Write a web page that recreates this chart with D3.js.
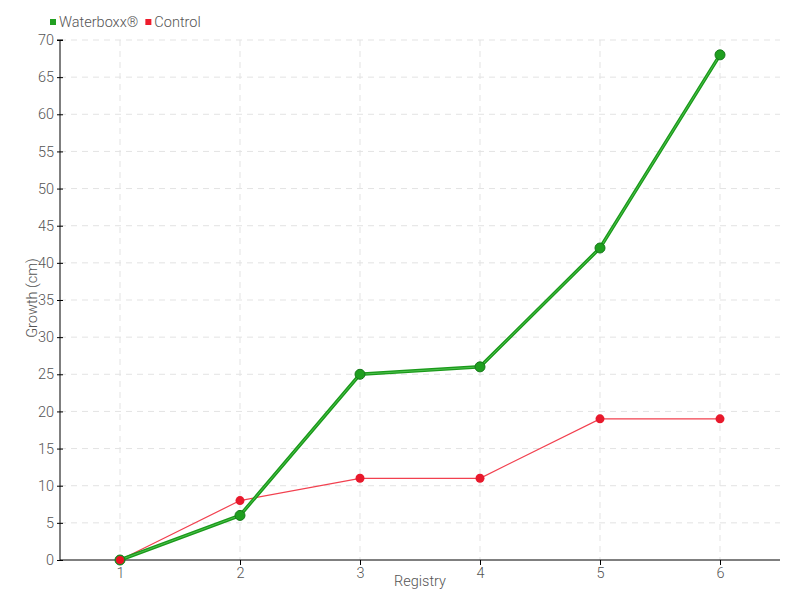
<!DOCTYPE html>
<html><head><meta charset="utf-8">
<script src="https://cdn.jsdelivr.net/npm/d3@7"></script>
<style>body{margin:0;background:#fff}text{font-family:Roboto,"DejaVu Sans Condensed",sans-serif;font-weight:300}</style>
</head><body><svg id="c" width="800" height="600"></svg>
<script>
const categories = ["1","2","3","4","5","6"];
const waterboxx = [0,6,25,26,42,68];
const control = [0,8,11,11,19,19];
const yTicks = [0,5,10,15,20,25,30,35,40,45,50,55,60,65,70];
const seriesNames = ["Waterboxx®","Control"];

const svg = d3.select("#c");
const L=60,R=780,T=40,B=560;
const x = d3.scalePoint().domain(categories).range([L,R]).padding(0.5);
const y = d3.scaleLinear().domain([0,70]).range([B,T]);
const grid = svg.append("g");
grid.selectAll("line.h").data(yTicks.slice(1)).enter().append("line")
 .attr("x1",L).attr("x2",R).attr("y1",d=>y(d)).attr("y2",d=>y(d))
 .attr("stroke","#e3e3e3").attr("stroke-dasharray","6,5");
grid.selectAll("line.v").data(categories).enter().append("line")
 .attr("x1",d=>x(d)).attr("x2",d=>x(d)).attr("y1",T).attr("y2",B)
 .attr("stroke","#e3e3e3").attr("stroke-dasharray","6,5");

const ya = svg.append("g").attr("transform",`translate(${L},0)`)
 .call(d3.axisLeft(y).tickValues(yTicks).tickSize(3).tickPadding(4));
ya.selectAll("line").attr("x2",3).attr("x1",-3).attr("stroke","#000");
ya.select(".domain").attr("d",`M-3,${T}H3M0,${T}V${B}`).attr("stroke","#000");
ya.selectAll("text").attr("font-size",14.5).attr("fill","#555").attr("x",-6);
const xa = svg.append("g").attr("transform",`translate(0,${B})`)
 .call(d3.axisBottom(x).tickSize(5).tickPadding(3));
xa.select(".domain").attr("d",`M${L},0H${R}`).attr("stroke","#000");
xa.selectAll("line").attr("stroke","#000");
xa.selectAll("text").attr("font-size",14.5).attr("fill","#555");

svg.append("text").attr("x",420).attr("y",586).attr("text-anchor","middle")
 .attr("font-size",14.5).attr("fill","#555").text("Registry");
svg.append("text").attr("transform","translate(37,298) rotate(-90)").attr("text-anchor","middle")
 .attr("font-size",14.5).attr("fill","#555").text("Growth (cm)");

const line = d3.line().x((d,i)=>x(categories[i])).y(d=>y(d));
svg.append("path").datum(control).attr("d",line).attr("fill","none")
 .attr("stroke","#f2404f").attr("stroke-width",1.2);
svg.append("path").datum(waterboxx).attr("d",line).attr("fill","none")
 .attr("stroke","#1a9a1a").attr("stroke-width",3.5);
svg.append("path").datum(waterboxx).attr("d",line).attr("fill","none")
 .attr("stroke","#4cc04c").attr("stroke-width",1);
svg.selectAll("circle.c").data(control).enter().append("circle")
 .attr("cx",(d,i)=>x(categories[i])).attr("cy",d=>y(d)).attr("r",4.5)
 .attr("fill","#e8192c");
svg.selectAll("circle.w").data(waterboxx).enter().append("circle")
 .attr("cx",(d,i)=>x(categories[i])).attr("cy",d=>y(d)).attr("r",5)
 .attr("fill","#1f9f1f").attr("stroke","#16781a").attr("stroke-width",1);
svg.append("circle").attr("cx",x(categories[0])).attr("cy",y(control[0])).attr("r",4)
 .attr("fill","#ee1025");

const leg = svg.append("g");
const colors = ["#22a022","#ee1c2c"];
let lx = 50;
seriesNames.forEach((n,i)=>{
  leg.append("rect").attr("x",lx).attr("y",19).attr("width",6).attr("height",6).attr("fill",colors[i]);
  const t = leg.append("text").attr("x",lx+9).attr("y",27).attr("font-size",14.5).attr("fill","#555").text(n);
  lx += 9 + t.node().getComputedTextLength() + 7;
});
</script></body></html>
